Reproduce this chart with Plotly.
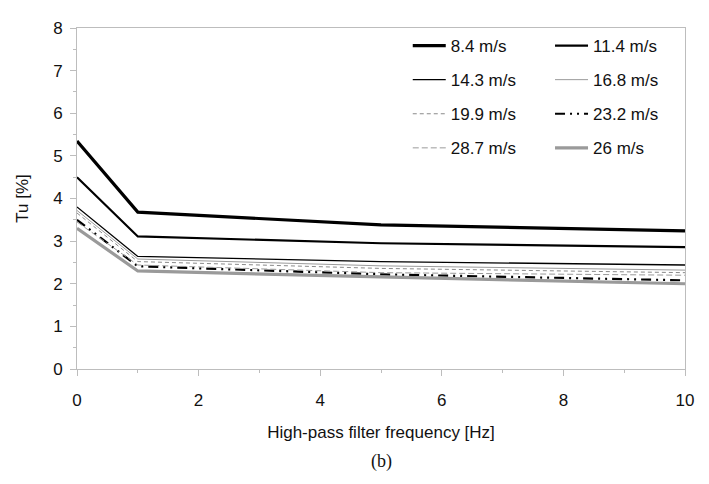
import plotly.graph_objects as go

freq = [0, 1, 5, 10]
names = ["8.4 m/s", "11.4 m/s", "14.3 m/s", "16.8 m/s",
         "19.9 m/s", "23.2 m/s", "28.7 m/s", "26 m/s"]
tu_84 = [5.35, 3.68, 3.38, 3.24]
tu_114 = [4.50, 3.11, 2.95, 2.86]
tu_143 = [3.80, 2.64, 2.52, 2.44]
tu_168 = [3.72, 2.58, 2.42, 2.32]
tu_199 = [3.66, 2.52, 2.36, 2.26]
tu_232 = [3.50, 2.41, 2.22, 2.08]
tu_287 = [3.45, 2.44, 2.26, 2.20]
tu_26 = [3.30, 2.30, 2.16, 2.00]
series = [tu_84, tu_114, tu_143, tu_168, tu_199, tu_232, tu_287, tu_26]

styles = [
    dict(color="black", width=3.2, dash="solid"),
    dict(color="black", width=2.2, dash="solid"),
    dict(color="black", width=1.3, dash="solid"),
    dict(color="#9a9a9a", width=1.0, dash="solid"),
    dict(color="#8a8a8a", width=1.0, dash="4px,3px"),
    dict(color="black", width=2.2, dash="10px,5px,2px,5px,2px,5px"),
    dict(color="#9a9a9a", width=1.0, dash="6px,3px"),
    dict(color="#9a9a9a", width=3.2, dash="solid"),
]

fig = go.Figure()
for i, (n, y, s) in enumerate(zip(names, series, styles)):
    fig.add_trace(go.Scatter(x=freq, y=y, name=n, mode="lines", line=s,
                             legend="legend" if i % 2 == 0 else "legend2",
                             legendgroup=n))

font = dict(family="Liberation Sans, Arial, sans-serif", size=17, color="#111")
axis_common = dict(
    showline=True, linecolor="#bdbdbd", linewidth=1, mirror=True,
    showgrid=False, zeroline=False, ticks="outside", ticklen=6,
    tickcolor="#bdbdbd", tickfont=font,
)
legfont = dict(family="Liberation Sans, Arial, sans-serif", size=17, color="#111")
fig.update_layout(
    width=701, height=476,
    margin=dict(l=69, r=24, t=11, b=115),
    paper_bgcolor="white", plot_bgcolor="white",
    font=font,
    xaxis=dict(range=[0, 10], dtick=2, ticklabelstandoff=10,
               title=dict(text="High-pass filter frequency [Hz]", font=font, standoff=16),
               minor=dict(dtick=1, ticks="outside", ticklen=3, tickcolor="#bdbdbd"), **axis_common),
    yaxis=dict(range=[0, 8], dtick=1, ticklabelstandoff=4,
               title=dict(text="Tu [%]", font=font, standoff=20),
               minor=dict(dtick=0.5, ticks="outside", ticklen=3, tickcolor="#bdbdbd"), **axis_common),
    legend=dict(x=0.544, y=1.0, xanchor="left", yanchor="top", itemwidth=33,
                bgcolor="rgba(0,0,0,0)", font=legfont, tracegroupgap=9),
    legend2=dict(x=0.778, y=1.0, xanchor="left", yanchor="top", itemwidth=33,
                 bgcolor="rgba(0,0,0,0)", font=legfont, tracegroupgap=9),
    showlegend=True,
)
fig.add_annotation(text="(b)", xref="paper", yref="paper", x=0.5, y=-0.27,
                   showarrow=False, yanchor="middle",
                   font=dict(family="Liberation Serif, Times New Roman, serif", size=18, color="#111"))
fig.write_html("out.html")
